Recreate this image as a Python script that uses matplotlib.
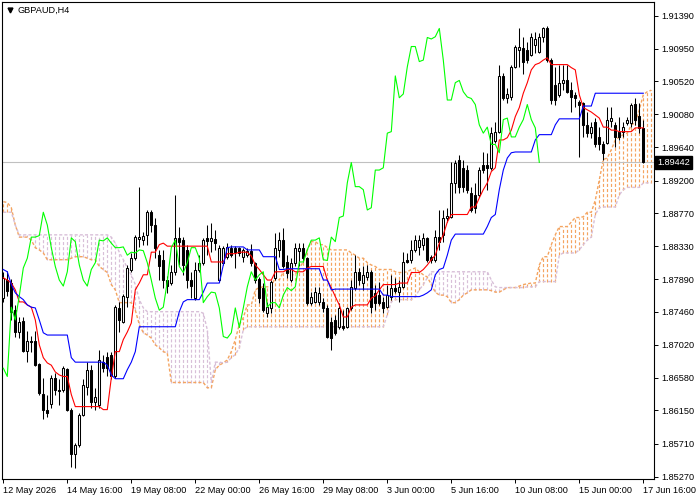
import numpy as np
import matplotlib
matplotlib.use('Agg')
import matplotlib.pyplot as plt
import matplotlib.transforms as mtransforms

plt.rcParams['font.family'] = ['Liberation Sans', 'DejaVu Sans']
plt.rcParams['lines.scale_dashes'] = False

symbol = 'GBPAUD,H4'
last_price = 1.89442

# H4 candles, 12 May 2026 00:00 .. 17 Jun 2026 16:00 (161 bars)
opens = [
    1.8764, 1.8788, 1.8784, 1.8748, 1.8719, 1.8734, 1.8694, 1.8707, 1.8707, 1.8677,
    1.8637, 1.8616, 1.8624, 1.8658, 1.8642, 1.8642, 1.8670, 1.8616, 1.8557, 1.8569,
    1.8609, 1.8646, 1.8669, 1.8626, 1.8622, 1.8679, 1.8686, 1.8689, 1.8660, 1.8751,
    1.8732, 1.8766, 1.8802, 1.8817, 1.8843, 1.8841, 1.8848, 1.8878, 1.8861, 1.8821,
    1.8815, 1.8788, 1.8784, 1.8799, 1.8844, 1.8841, 1.8828, 1.8788, 1.8764, 1.8802,
    1.8811, 1.8844, 1.8840, 1.8843, 1.8788, 1.8811, 1.8819, 1.8831, 1.8831, 1.8830,
    1.8819, 1.8821, 1.8827, 1.8811, 1.8790, 1.8778, 1.8744, 1.8751, 1.8791, 1.8828,
    1.8841, 1.8812, 1.8788, 1.8811, 1.8827, 1.8831, 1.8817, 1.8758, 1.8759, 1.8759,
    1.8759, 1.8751, 1.8732, 1.8735, 1.8726, 1.8727, 1.8726, 1.8751, 1.8778, 1.8799,
    1.8784, 1.8792, 1.8799, 1.8771, 1.8768, 1.8759, 1.8752, 1.8766, 1.8778, 1.8772,
    1.8779, 1.8815, 1.8815, 1.8828, 1.8832, 1.8835, 1.8844, 1.8819, 1.8815, 1.8845,
    1.8848, 1.8871, 1.8872, 1.8917, 1.8948, 1.8937, 1.8934, 1.8904, 1.8901, 1.8901,
    1.8941, 1.8941, 1.8937, 1.8972, 1.8985, 1.9059, 1.9029, 1.9031, 1.9071, 1.9094,
    1.9096, 1.9094, 1.9087, 1.9100, 1.9091, 1.9111, 1.9122, 1.9080, 1.9047, 1.9034,
    1.9050, 1.9053, 1.9040, 1.9033, 1.9025, 1.9023, 1.8994, 1.8983, 1.8998, 1.8978,
    1.8968, 1.8970, 1.8999, 1.8994, 1.8985, 1.8985, 1.8997, 1.8997, 1.9022, 1.9006,
    1.8990,
]
highs = [
    1.8799, 1.8800, 1.8790, 1.8755, 1.8739, 1.8739, 1.8721, 1.8714, 1.8721, 1.8678,
    1.8658, 1.8636, 1.8662, 1.8665, 1.8656, 1.8674, 1.8671, 1.8618, 1.8572, 1.8612,
    1.8656, 1.8679, 1.8675, 1.8645, 1.8695, 1.8689, 1.8693, 1.8693, 1.8755, 1.8759,
    1.8770, 1.8808, 1.8824, 1.8848, 1.8912, 1.8852, 1.8881, 1.8881, 1.8871, 1.8828,
    1.8828, 1.8794, 1.8808, 1.8901, 1.8859, 1.8845, 1.8835, 1.8799, 1.8812, 1.8821,
    1.8844, 1.8861, 1.8864, 1.8855, 1.8835, 1.8833, 1.8837, 1.8835, 1.8833, 1.8832,
    1.8831, 1.8831, 1.8836, 1.8812, 1.8792, 1.8784, 1.8759, 1.8788, 1.8851, 1.8852,
    1.8857, 1.8821, 1.8817, 1.8837, 1.8837, 1.8837, 1.8819, 1.8772, 1.8779, 1.8779,
    1.8764, 1.8755, 1.8739, 1.8742, 1.8758, 1.8748, 1.8752, 1.8788, 1.8821, 1.8804,
    1.8806, 1.8808, 1.8802, 1.8782, 1.8786, 1.8766, 1.8782, 1.8795, 1.8791, 1.8788,
    1.8825, 1.8824, 1.8841, 1.8848, 1.8848, 1.8851, 1.8845, 1.8821, 1.8855, 1.8881,
    1.8881, 1.8884, 1.8945, 1.8948, 1.8954, 1.8948, 1.8941, 1.8912, 1.8917, 1.8938,
    1.8958, 1.8957, 1.8991, 1.8998, 1.9074, 1.9063, 1.9043, 1.9074, 1.9100, 1.9123,
    1.9110, 1.9104, 1.9116, 1.9117, 1.9116, 1.9124, 1.9125, 1.9083, 1.9071, 1.9074,
    1.9074, 1.9074, 1.9051, 1.9038, 1.9027, 1.9025, 1.9011, 1.8998, 1.9003, 1.8991,
    1.8972, 1.9018, 1.9018, 1.8998, 1.9005, 1.8998, 1.9005, 1.9023, 1.9029, 1.9023,
    1.9001,
]
lows = [
    1.8759, 1.8767, 1.8735, 1.8713, 1.8711, 1.8693, 1.8679, 1.8693, 1.8674, 1.8636,
    1.8604, 1.8606, 1.8618, 1.8636, 1.8622, 1.8640, 1.8614, 1.8540, 1.8539, 1.8567,
    1.8608, 1.8636, 1.8618, 1.8616, 1.8618, 1.8666, 1.8660, 1.8656, 1.8658, 1.8719,
    1.8731, 1.8752, 1.8799, 1.8815, 1.8832, 1.8835, 1.8835, 1.8852, 1.8817, 1.8788,
    1.8778, 1.8771, 1.8782, 1.8795, 1.8808, 1.8795, 1.8778, 1.8764, 1.8762, 1.8799,
    1.8808, 1.8821, 1.8825, 1.8828, 1.8786, 1.8808, 1.8816, 1.8819, 1.8804, 1.8820,
    1.8812, 1.8819, 1.8806, 1.8784, 1.8758, 1.8746, 1.8739, 1.8744, 1.8788, 1.8819,
    1.8804, 1.8791, 1.8786, 1.8806, 1.8806, 1.8812, 1.8755, 1.8755, 1.8758, 1.8755,
    1.8746, 1.8711, 1.8695, 1.8715, 1.8723, 1.8722, 1.8725, 1.8748, 1.8775, 1.8782,
    1.8775, 1.8788, 1.8744, 1.8748, 1.8755, 1.8744, 1.8751, 1.8762, 1.8771, 1.8759,
    1.8778, 1.8811, 1.8811, 1.8825, 1.8821, 1.8828, 1.8812, 1.8811, 1.8812, 1.8828,
    1.8839, 1.8865, 1.8871, 1.8904, 1.8904, 1.8905, 1.8904, 1.8878, 1.8877, 1.8898,
    1.8930, 1.8908, 1.8934, 1.8970, 1.8983, 1.9027, 1.9023, 1.9027, 1.9070, 1.9071,
    1.9061, 1.9076, 1.9086, 1.9090, 1.9090, 1.9104, 1.9078, 1.9022, 1.9021, 1.9031,
    1.9040, 1.9036, 1.9011, 1.9018, 1.8952, 1.8978, 1.8978, 1.8977, 1.8964, 1.8961,
    1.8948, 1.8968, 1.8991, 1.8965, 1.8974, 1.8978, 1.8994, 1.8991, 1.8994, 1.8983,
    1.8943,
]
closes = [
    1.8791, 1.8774, 1.8746, 1.8719, 1.8732, 1.8694, 1.8707, 1.8706, 1.8675, 1.8638,
    1.8616, 1.8612, 1.8658, 1.8642, 1.8641, 1.8671, 1.8616, 1.8557, 1.8569, 1.8609,
    1.8649, 1.8669, 1.8626, 1.8633, 1.8682, 1.8671, 1.8671, 1.8660, 1.8752, 1.8735,
    1.8767, 1.8804, 1.8817, 1.8845, 1.8845, 1.8847, 1.8878, 1.8861, 1.8831, 1.8806,
    1.8788, 1.8780, 1.8799, 1.8844, 1.8839, 1.8808, 1.8788, 1.8780, 1.8802, 1.8811,
    1.8841, 1.8840, 1.8844, 1.8837, 1.8831, 1.8831, 1.8832, 1.8821, 1.8825, 1.8824,
    1.8828, 1.8827, 1.8811, 1.8788, 1.8764, 1.8748, 1.8752, 1.8786, 1.8831, 1.8841,
    1.8806, 1.8798, 1.8811, 1.8831, 1.8831, 1.8817, 1.8758, 1.8766, 1.8772, 1.8771,
    1.8751, 1.8713, 1.8711, 1.8718, 1.8751, 1.8725, 1.8751, 1.8779, 1.8799, 1.8788,
    1.8795, 1.8799, 1.8752, 1.8758, 1.8758, 1.8751, 1.8768, 1.8778, 1.8774, 1.8779,
    1.8812, 1.8812, 1.8828, 1.8841, 1.8841, 1.8844, 1.8815, 1.8814, 1.8845, 1.8839,
    1.8871, 1.8873, 1.8917, 1.8944, 1.8912, 1.8912, 1.8908, 1.8881, 1.8884, 1.8934,
    1.8934, 1.8937, 1.8983, 1.8985, 1.9059, 1.9030, 1.9035, 1.9071, 1.9098, 1.9098,
    1.9078, 1.9080, 1.9110, 1.9108, 1.9111, 1.9122, 1.9080, 1.9027, 1.9027, 1.9050,
    1.9053, 1.9038, 1.9031, 1.9029, 1.9021, 1.8994, 1.8983, 1.8991, 1.8968, 1.8968,
    1.8957, 1.9001, 1.9003, 1.8978, 1.8978, 1.8991, 1.9001, 1.9021, 1.9001, 1.8990,
    1.89442,
]

# Ichimoku lines
tenkan = [
    1.8791, 1.8788, 1.8784, 1.8775, 1.8759, 1.8759, 1.8755, 1.8752, 1.8735, 1.8702,
    1.8685, 1.8678, 1.8675, 1.8666, 1.8662, 1.8660, 1.8660, 1.8636, 1.8620, 1.8620,
    1.8620, 1.8620, 1.8620, 1.8620, 1.8620, 1.8616, 1.8616, 1.8658, 1.8693, 1.8693,
    1.8709, 1.8719, 1.8731, 1.8775, 1.8784, 1.8795, 1.8795, 1.8825, 1.8825, 1.8835,
    1.8837, 1.8833, 1.8833, 1.8833, 1.8833, 1.8833, 1.8833, 1.8833, 1.8833, 1.8833,
    1.8833, 1.8833, 1.8812, 1.8812, 1.8812, 1.8812, 1.8823, 1.8823, 1.8823, 1.8825,
    1.8825, 1.8825, 1.8820, 1.8808, 1.8802, 1.8795, 1.8788, 1.8788, 1.8799, 1.8799,
    1.8799, 1.8802, 1.8802, 1.8799, 1.8799, 1.8799, 1.8804, 1.8806, 1.8806, 1.8806,
    1.8806, 1.8788, 1.8778, 1.8766, 1.8755, 1.8739, 1.8739, 1.8752, 1.8755, 1.8755,
    1.8755, 1.8755, 1.8764, 1.8767, 1.8775, 1.8782, 1.8782, 1.8782, 1.8782, 1.8784,
    1.8784, 1.8784, 1.8798, 1.8798, 1.8798, 1.8802, 1.8808, 1.8815, 1.8821, 1.8837,
    1.8848, 1.8865, 1.8875, 1.8875, 1.8875, 1.8875, 1.8875, 1.8885, 1.8885, 1.8897,
    1.8908, 1.8917, 1.8932, 1.8937, 1.8974, 1.8974, 1.8977, 1.8987, 1.9005, 1.9017,
    1.9036, 1.9050, 1.9067, 1.9074, 1.9076, 1.9080, 1.9083, 1.9074, 1.9074, 1.9074,
    1.9074, 1.9074, 1.9070, 1.9067, 1.9034, 1.9017, 1.9014, 1.9011, 1.9007, 1.9003,
    1.8991, 1.8991, 1.8987, 1.8987, 1.8985, 1.8985, 1.8985, 1.8985, 1.8990, 1.8990,
    1.8990,
]
kijun = [
    1.8802, 1.8799, 1.8782, 1.8771, 1.8766, 1.8762, 1.8755, 1.8752, 1.8751, 1.8735,
    1.8718, 1.8715, 1.8715, 1.8715, 1.8715, 1.8715, 1.8715, 1.8685, 1.8679, 1.8679,
    1.8679, 1.8679, 1.8679, 1.8679, 1.8679, 1.8679, 1.8675, 1.8662, 1.8657, 1.8657,
    1.8657, 1.8669, 1.8679, 1.8693, 1.8726, 1.8726, 1.8726, 1.8726, 1.8726, 1.8726,
    1.8726, 1.8726, 1.8726, 1.8726, 1.8746, 1.8759, 1.8762, 1.8762, 1.8762, 1.8762,
    1.8772, 1.8784, 1.8784, 1.8784, 1.8784, 1.8808, 1.8831, 1.8832, 1.8832, 1.8832,
    1.8832, 1.8828, 1.8828, 1.8828, 1.8828, 1.8819, 1.8819, 1.8819, 1.8819, 1.8802,
    1.8802, 1.8803, 1.8803, 1.8803, 1.8803, 1.8803, 1.8803, 1.8803, 1.8803, 1.8803,
    1.8788, 1.8788, 1.8775, 1.8776, 1.8776, 1.8776, 1.8776, 1.8776, 1.8776, 1.8776,
    1.8776, 1.8776, 1.8776, 1.8776, 1.8776, 1.8768, 1.8768, 1.8766, 1.8766, 1.8766,
    1.8766, 1.8766, 1.8766, 1.8766, 1.8766, 1.8768, 1.8771, 1.8775, 1.8795, 1.8802,
    1.8804, 1.8821, 1.8841, 1.8849, 1.8849, 1.8849, 1.8849, 1.8849, 1.8849, 1.8849,
    1.8849, 1.8859, 1.8871, 1.8875, 1.8908, 1.8934, 1.8950, 1.8957, 1.8958, 1.8958,
    1.8958, 1.8958, 1.8958, 1.8974, 1.8981, 1.8981, 1.8981, 1.8981, 1.8994, 1.9002,
    1.9002, 1.9002, 1.9002, 1.9002, 1.9002, 1.9019, 1.9019, 1.9019, 1.9036, 1.9036,
    1.9036, 1.9036, 1.9036, 1.9036, 1.9036, 1.9036, 1.9036, 1.9036, 1.9036, 1.9036,
    1.9036,
]
# Senkou spans, already shifted forward (163 points, two past the last bar)
span_a = [
    1.8892, 1.8891, 1.8884, 1.8861, 1.8845, 1.8845, 1.8845, 1.8841, 1.8831, 1.8828,
    1.8824, 1.8815, 1.8815, 1.8815, 1.8815, 1.8815, 1.8815, 1.8817, 1.8819, 1.8819,
    1.8819, 1.8817, 1.8815, 1.8815, 1.8806, 1.8802, 1.8798, 1.8782, 1.8775, 1.8758,
    1.8758, 1.8758, 1.8758, 1.8748, 1.8729, 1.8718, 1.8715, 1.8711, 1.8702, 1.8698,
    1.8693, 1.8691, 1.8652, 1.8652, 1.8652, 1.8652, 1.8652, 1.8652, 1.8652, 1.8652,
    1.8652, 1.8645, 1.8645, 1.8669, 1.8675, 1.8678, 1.8682, 1.8693, 1.8709, 1.8729,
    1.8738, 1.8755, 1.8755, 1.8775, 1.8778, 1.8779, 1.8779, 1.8779, 1.8792, 1.8788,
    1.8799, 1.8802, 1.8795, 1.8795, 1.8804, 1.8812, 1.8828, 1.8839, 1.8839, 1.8835,
    1.8835, 1.8831, 1.8828, 1.8828, 1.8828, 1.8828, 1.8828, 1.8824, 1.8821, 1.8817,
    1.8817, 1.8811, 1.8808, 1.8806, 1.8802, 1.8802, 1.8802, 1.8802, 1.8799, 1.8798,
    1.8798, 1.8799, 1.8802, 1.8804, 1.8799, 1.8795, 1.8792, 1.8782, 1.8772, 1.8768,
    1.8768, 1.8766, 1.8758, 1.8758, 1.8762, 1.8768, 1.8771, 1.8775, 1.8775, 1.8775,
    1.8775, 1.8775, 1.8774, 1.8772, 1.8772, 1.8775, 1.8778, 1.8778, 1.8778, 1.8780,
    1.8782, 1.8783, 1.8784, 1.8784, 1.8808, 1.8819, 1.8819, 1.8835, 1.8848, 1.8859,
    1.8859, 1.8859, 1.8865, 1.8871, 1.8871, 1.8872, 1.8878, 1.8878, 1.8894, 1.8921,
    1.8948, 1.8950, 1.8961, 1.8974, 1.8978, 1.8981, 1.8983, 1.8994, 1.8997, 1.9014,
    1.9034, 1.9038, 1.9040,
]
span_b = [
    1.8878, 1.8878, 1.8878, 1.8861, 1.8848, 1.8848, 1.8848, 1.8848, 1.8848, 1.8848,
    1.8848, 1.8848, 1.8848, 1.8848, 1.8848, 1.8848, 1.8848, 1.8848, 1.8848, 1.8848,
    1.8848, 1.8848, 1.8848, 1.8848, 1.8848, 1.8848, 1.8848, 1.8845, 1.8837, 1.8825,
    1.8815, 1.8804, 1.8795, 1.8782, 1.8762, 1.8751, 1.8746, 1.8746, 1.8746, 1.8746,
    1.8746, 1.8746, 1.8746, 1.8746, 1.8746, 1.8746, 1.8746, 1.8746, 1.8746, 1.8746,
    1.8744, 1.8722, 1.8652, 1.8679, 1.8679, 1.8678, 1.8679, 1.8685, 1.8689, 1.8698,
    1.8722, 1.8726, 1.8726, 1.8726, 1.8726, 1.8726, 1.8726, 1.8726, 1.8726, 1.8726,
    1.8726, 1.8726, 1.8726, 1.8726, 1.8726, 1.8726, 1.8726, 1.8726, 1.8726, 1.8726,
    1.8726, 1.8726, 1.8726, 1.8726, 1.8726, 1.8726, 1.8726, 1.8726, 1.8726, 1.8726,
    1.8726, 1.8726, 1.8726, 1.8726, 1.8726, 1.8726, 1.8742, 1.8759, 1.8762, 1.8762,
    1.8762, 1.8762, 1.8762, 1.8766, 1.8775, 1.8782, 1.8791, 1.8799, 1.8799, 1.8799,
    1.8799, 1.8799, 1.8799, 1.8799, 1.8799, 1.8799, 1.8799, 1.8799, 1.8799, 1.8799,
    1.8799, 1.8799, 1.8788, 1.8779, 1.8778, 1.8778, 1.8778, 1.8778, 1.8778, 1.8778,
    1.8778, 1.8779, 1.8779, 1.8779, 1.8786, 1.8786, 1.8786, 1.8786, 1.8786, 1.8821,
    1.8824, 1.8824, 1.8824, 1.8824, 1.8828, 1.8835, 1.8841, 1.8845, 1.8875, 1.8884,
    1.8885, 1.8885, 1.8885, 1.8885, 1.8901, 1.8908, 1.8911, 1.8911, 1.8911, 1.8911,
    1.8917, 1.8917, 1.8917,
]

x_labels = ['12 May 2026', '14 May 16:00', '19 May 08:00', '22 May 00:00',
            '26 May 16:00', '29 May 08:00', '3 Jun 00:00', '5 Jun 16:00',
            '10 Jun 08:00', '15 Jun 00:00', '17 Jun 16:00']
y_ticks = [1.91390, 1.90950, 1.90520, 1.90080, 1.89640, 1.89200, 1.88770,
           1.88330, 1.87890, 1.87460, 1.87020, 1.86580, 1.86150, 1.85710, 1.85270]

opens = np.array(opens)
highs = np.array(highs)
lows = np.array(lows)
closes = np.array(closes)
span_a = np.array(span_a)
span_b = np.array(span_b)
bars = np.arange(len(closes))
span_x = np.arange(len(span_a))
shift = 26

fig = plt.figure(figsize=(7, 5), dpi=100, facecolor='white')
ax = fig.add_axes([2 / 700, 21 / 500, 652 / 700, 477 / 500])
fs = 6.6
dash = (0, (2.2, 1.5))

# cloud hatch (one dashed column per bar)
up = span_a >= span_b
cloud_cols = np.where(up, '#F4A460', '#D8BFD8')
ax.vlines(span_x, np.minimum(span_a, span_b), np.maximum(span_a, span_b),
          colors=cloud_cols, linestyles=[dash], linewidth=0.85, zorder=1)
ax.plot(span_x, span_a, color='#F4A460', ls=dash, lw=1.0, zorder=1)
ax.plot(span_x, span_b, color='#D8BFD8', ls=dash, lw=1.0, zorder=1)

# current price line
ax.axhline(last_price, color='#C0C0C0', lw=0.8, zorder=1)

# candles
ax.vlines(bars, lows, highs, colors='black', linewidth=0.75, zorder=2)
bull = closes >= opens
body_lo = np.minimum(opens, closes)
body_h = np.maximum(np.abs(closes - opens), 0.00002)
ax.bar(bars, body_h, bottom=body_lo, width=0.55,
       color=np.where(bull, 'white', 'black'), edgecolor='black',
       linewidth=0.75, zorder=3)

# ichimoku lines
ax.plot(bars, tenkan, color='#FF0000', lw=0.8, zorder=4)
ax.plot(bars, kijun, color='#0000FF', lw=0.8, zorder=4)
ax.plot(bars[:-shift], closes[shift:], color='#00FF00', lw=0.8, zorder=4)

ax.set_xlim(-0.325, 162.675)
ax.set_ylim(1.85239, 1.91571)

ax.set_xticks(np.arange(0, 161, 16))
ax.set_xticklabels(x_labels, fontsize=fs, ha='left')
ax.yaxis.tick_right()
ax.set_yticks(y_ticks)
ax.set_yticklabels([f'{v:.5f}' for v in y_ticks], fontsize=fs)
ax.tick_params(axis='both', direction='out', length=3, width=0.7, pad=2)
for sp in ax.spines.values():
    sp.set_linewidth(0.8)

# symbol caption
ax.plot([8 / 652], [1 - 8 / 477], marker='v', ms=3.5, color='black',
        transform=ax.transAxes, clip_on=False)
ax.text(15 / 652, 1 - 8 / 477, symbol, transform=ax.transAxes,
        va='center', ha='left', fontsize=fs)

# price tag
trans = mtransforms.blended_transform_factory(ax.transAxes, ax.transData)
ax.text(1 + 3 / 652, last_price, f'{last_price:.5f}', transform=trans,
        va='center', ha='left', fontsize=fs, color='white', zorder=10,
        bbox=dict(boxstyle='square,pad=0.25', facecolor='black', edgecolor='black'))

fig.savefig('out.png', dpi=100, facecolor='white')
